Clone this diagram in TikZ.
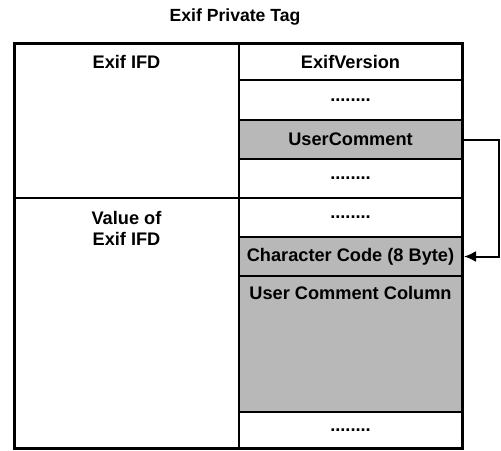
\documentclass[tikz,border=0pt]{standalone}
\usepackage{fontspec}
\setmainfont{Liberation Sans}
\usetikzlibrary{arrows.meta}
\tikzset{
    cellfont/.style = {font=\bfseries\fontsize{9.1}{10.5}\selectfont},
    cellw/.style = {rectangle, draw=black, line width=1.2pt, minimum width=111.5pt, inner sep=0pt, outer sep=0pt, cellfont},
    cellg/.style = {cellw, fill=black!28},
    cellleft/.style = {cellw, minimum width=112.5pt},
    edgea/.style = {-{Latex[length=6pt,width=5.5pt]}, line width=1pt, shorten >=1pt},
}

\begin{document}
\begin{tikzpicture}[x=0.5pt, y=-0.5pt, every label/.style={cellfont}]
\useasboundingbox (0,0) rectangle (501,450);

\node[font=\bfseries\fontsize{8.8}{10}\selectfont] (title) at (235,17) {Exif Private Tag};

% left column
\node[cellleft, minimum height=77.5pt, label={[anchor=center, yshift=-9.25pt]north:Exif IFD}] (l1) at (126.5,120.5) {};
\node[cellleft, minimum height=125pt, label={[anchor=center, yshift=-15pt, align=center]north:Value of\\Exif IFD}] (l2) at (126.5,323) {};

% right column
\node[cellw, minimum height=18.5pt] (r1) at (350.5,61.5) {ExifVersion};
\node[cellw, minimum height=20pt] (r2) at (350.5,100) {........};
\node[cellg, minimum height=19.5pt] (r3) at (350.5,139.5) {UserComment};
\node[cellw, minimum height=19.5pt] (r4) at (350.5,178.5) {........};
\node[cellw, minimum height=19.5pt] (r5) at (350.5,217.5) {........};
\node[cellg, minimum height=19.5pt] (r6) at (350.5,256.5) {Character Code (8 Byte)};
\node[cellg, minimum height=68pt, label={[anchor=center, yshift=-8.5pt]north:User Comment Column}] (r7) at (350.5,344) {};
\node[cellw, minimum height=18pt] (r8) at (350.5,430) {........};

% outer frame
\draw[line width=1.5pt] (l1.north west) rectangle (r8.south east);

\coordinate (bend) at (499,139.5);
\draw[edgea] (r3.east) -- (bend) |- (r6.east);

\end{tikzpicture}
\end{document}
